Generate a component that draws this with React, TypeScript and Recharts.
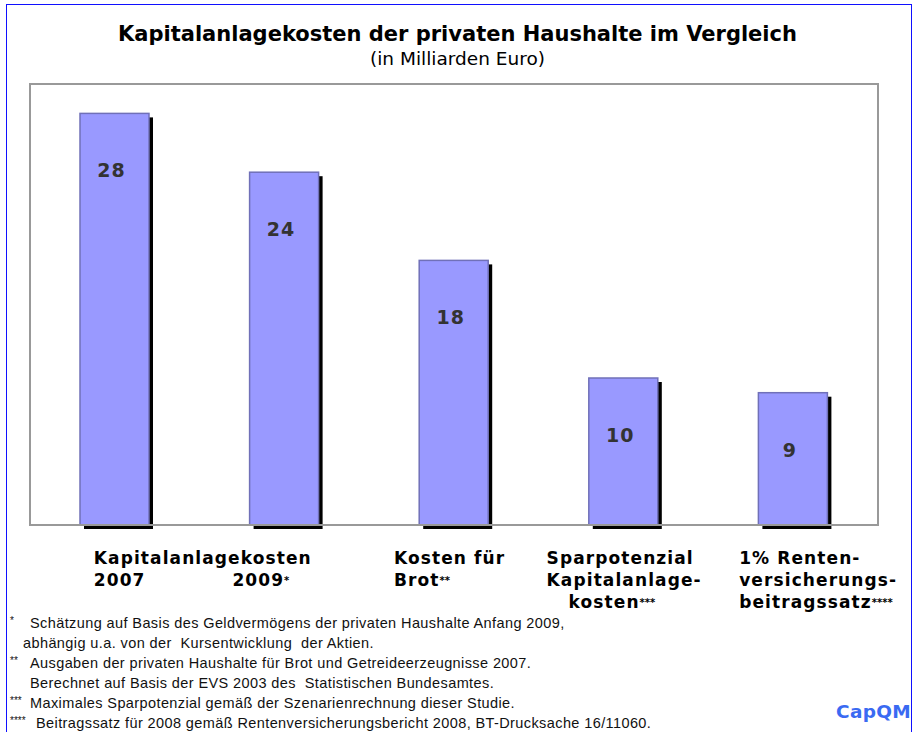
import React from 'react';
import { BarChart, Bar, XAxis, YAxis, ReferenceArea, LabelList } from 'recharts';

// Kapitalanlagekosten der privaten Haushalte (Mrd. Euro)
const categories = [
  'Kapitalanlagekosten 2007',
  'Kapitalanlagekosten 2009*',
  'Kosten für Brot**',
  'Sparpotenzial Kapitalanlagekosten***',
  '1% Rentenversicherungsbeitragssatz****',
];
const values = [28, 24, 18, 10, 9];

// axis label text, line by line
const tickLines = [
  ['Kapitalanlagekosten', '2007'],
  ['', '2009*'],
  ['Kosten für', 'Brot**'],
  ['Sparpotenzial', 'Kapitalanlage-', 'kosten***'],
  ['1% Renten-', 'versicherungs-', 'beitragssatz****'],
];

const footnoteMarks = ['*', '', '**', '', '***', '****'];
const footnoteTexts = [
  'Schätzung auf Basis des Geldvermögens der privaten Haushalte Anfang 2009,',
  'abhängig u.a. von der  Kursentwicklung  der Aktien.',
  'Ausgaben der privaten Haushalte für Brot und Getreideerzeugnisse 2007.',
  'Berechnet auf Basis der EVS 2003 des  Statistischen Bundesamtes.',
  'Maximales Sparpotenzial gemäß der Szenarienrechnung dieser Studie.',
  'Beitragssatz für 2008 gemäß Rentenversicherungsbericht 2008, BT-Drucksache 16/11060.',
];

const data = categories.map((name, i) => ({ name, value: values[i], idx: i }));

// layout tweaks (start offset of each tick line from the bar centre)
const tickDx = [
  [-21, -21],
  [-52, -52],
  [-60, -60],
  [-77, -77, -55],
  [-54, -54, -54],
];
const footIndent = [30, 23, 30, 30, 30, 36];

const BAR_FILL = '#9999FF';
const BAR_STROKE = '#7070B8';
const GRID = '#999999';
const LABEL_FONT = '"DejaVu Sans", Verdana, sans-serif';

function ShadowBar(props: any) {
  const { x, y, width, height } = props;
  if (!height) return null;
  return (
    <g>
      <rect x={x + 4} y={y + 4} width={width} height={height} fill="#000" />
      <rect x={x} y={y} width={width} height={height} fill={BAR_FILL} stroke={BAR_STROKE} strokeWidth={1.5} />
    </g>
  );
}

function ValueLabel(props: any) {
  const { x, y, width, value } = props;
  return (
    <text
      x={x + width / 2 - 3}
      y={y + 64}
      textAnchor="middle"
      fontFamily={LABEL_FONT}
      fontWeight="bold"
      fontSize={19}
      letterSpacing={1}
      fill="#333"
    >
      {value}
    </text>
  );
}

function splitStars(s: string) {
  const m = s.match(/^(.*?)(\**)$/);
  return m ? [m[1], m[2]] : [s, ''];
}

function CategoryTick(props: any) {
  const { x, y, payload } = props;
  const i = payload.index;
  const lines = tickLines[i] || [];
  return (
    <g>
      {lines.map((ln, k) => {
        if (!ln) return null;
        const [main, stars] = splitStars(ln);
        return (
          <text
            key={k}
            x={x + tickDx[i][k]}
            y={y + 39 + k * 22}
            textAnchor="start"
            fontFamily={LABEL_FONT}
            fontWeight="bold"
            fontSize={17}
            letterSpacing={1.1}
            fill="#000"
          >
            {main}
            {stars && (
              <tspan fontSize={10} letterSpacing={0} dy={-2}>
                {stars}
              </tspan>
            )}
          </text>
        );
      })}
    </g>
  );
}

export default function App() {
  return (
    <div
      style={{
        position: 'absolute',
        left: 0,
        top: 0,
        width: 917,
        height: 732,
        background: '#fff',
        overflow: 'hidden',
      }}
    >
      {/* blue frame */}
      <div
        style={{
          position: 'absolute',
          left: 6,
          top: 4,
          width: 906,
          height: 740,
          border: '1px solid #1010FF',
          boxSizing: 'border-box',
        }}
      />
      <div
        style={{
          position: 'absolute',
          left: 0,
          width: 917,
          top: 20,
          textAlign: 'center',
          fontFamily: LABEL_FONT,
          color: '#000',
        }}
      >
        <div style={{ fontSize: 21, fontWeight: 'bold', lineHeight: '28px', paddingRight: 2 }}>
          Kapitalanlagekosten der privaten Haushalte im Vergleich
        </div>
        <div style={{ fontSize: 18.5, lineHeight: '22px', paddingRight: 2 }}>(in Milliarden Euro)</div>
      </div>

      <div style={{ position: 'absolute', left: 0, top: 0 }}>
        <BarChart
          width={917}
          height={732}
          data={data}
          margin={{ top: 84, right: 39, left: 30, bottom: 107 }}
          barSize={69}
        >
          <ReferenceArea y1={0} y2={30} fill="none" stroke={GRID} strokeWidth={2} ifOverflow="visible" />
          <XAxis
            dataKey="name"
            height={100}
            interval={0}
            tickLine={false}
            tickSize={0}
            tickMargin={0}
            axisLine={{ stroke: GRID, strokeWidth: 2 }}
            tick={<CategoryTick />}
          />
          <YAxis hide domain={[0, 30]} />
          <Bar dataKey="value" shape={<ShadowBar />} isAnimationActive={false}>
            <LabelList dataKey="value" content={<ValueLabel />} />
          </Bar>
        </BarChart>
      </div>

      <div
        style={{
          position: 'absolute',
          left: 0,
          top: 613,
          fontFamily: '"Liberation Sans", Arial, sans-serif',
          fontSize: 14.5,
          letterSpacing: 0.4,
          color: '#111',
        }}
      >
        {footnoteTexts.map((t, i) => (
          <div key={i} style={{ position: 'relative', height: 20, lineHeight: '20px', whiteSpace: 'pre' }}>
            {footnoteMarks[i] && (
              <span style={{ position: 'absolute', left: 10, top: -2, fontSize: 10, letterSpacing: 0 }}>
                {footnoteMarks[i]}
              </span>
            )}
            <span style={{ position: 'absolute', left: footIndent[i] }}>{t}</span>
          </div>
        ))}
      </div>

      <div
        style={{
          position: 'absolute',
          left: 836,
          top: 701,
          fontFamily: LABEL_FONT,
          fontWeight: 'bold',
          fontSize: 18.5,
          letterSpacing: 0.3,
          color: '#3A6AF2',
        }}
      >
        CapQM
      </div>
    </div>
  );
}
